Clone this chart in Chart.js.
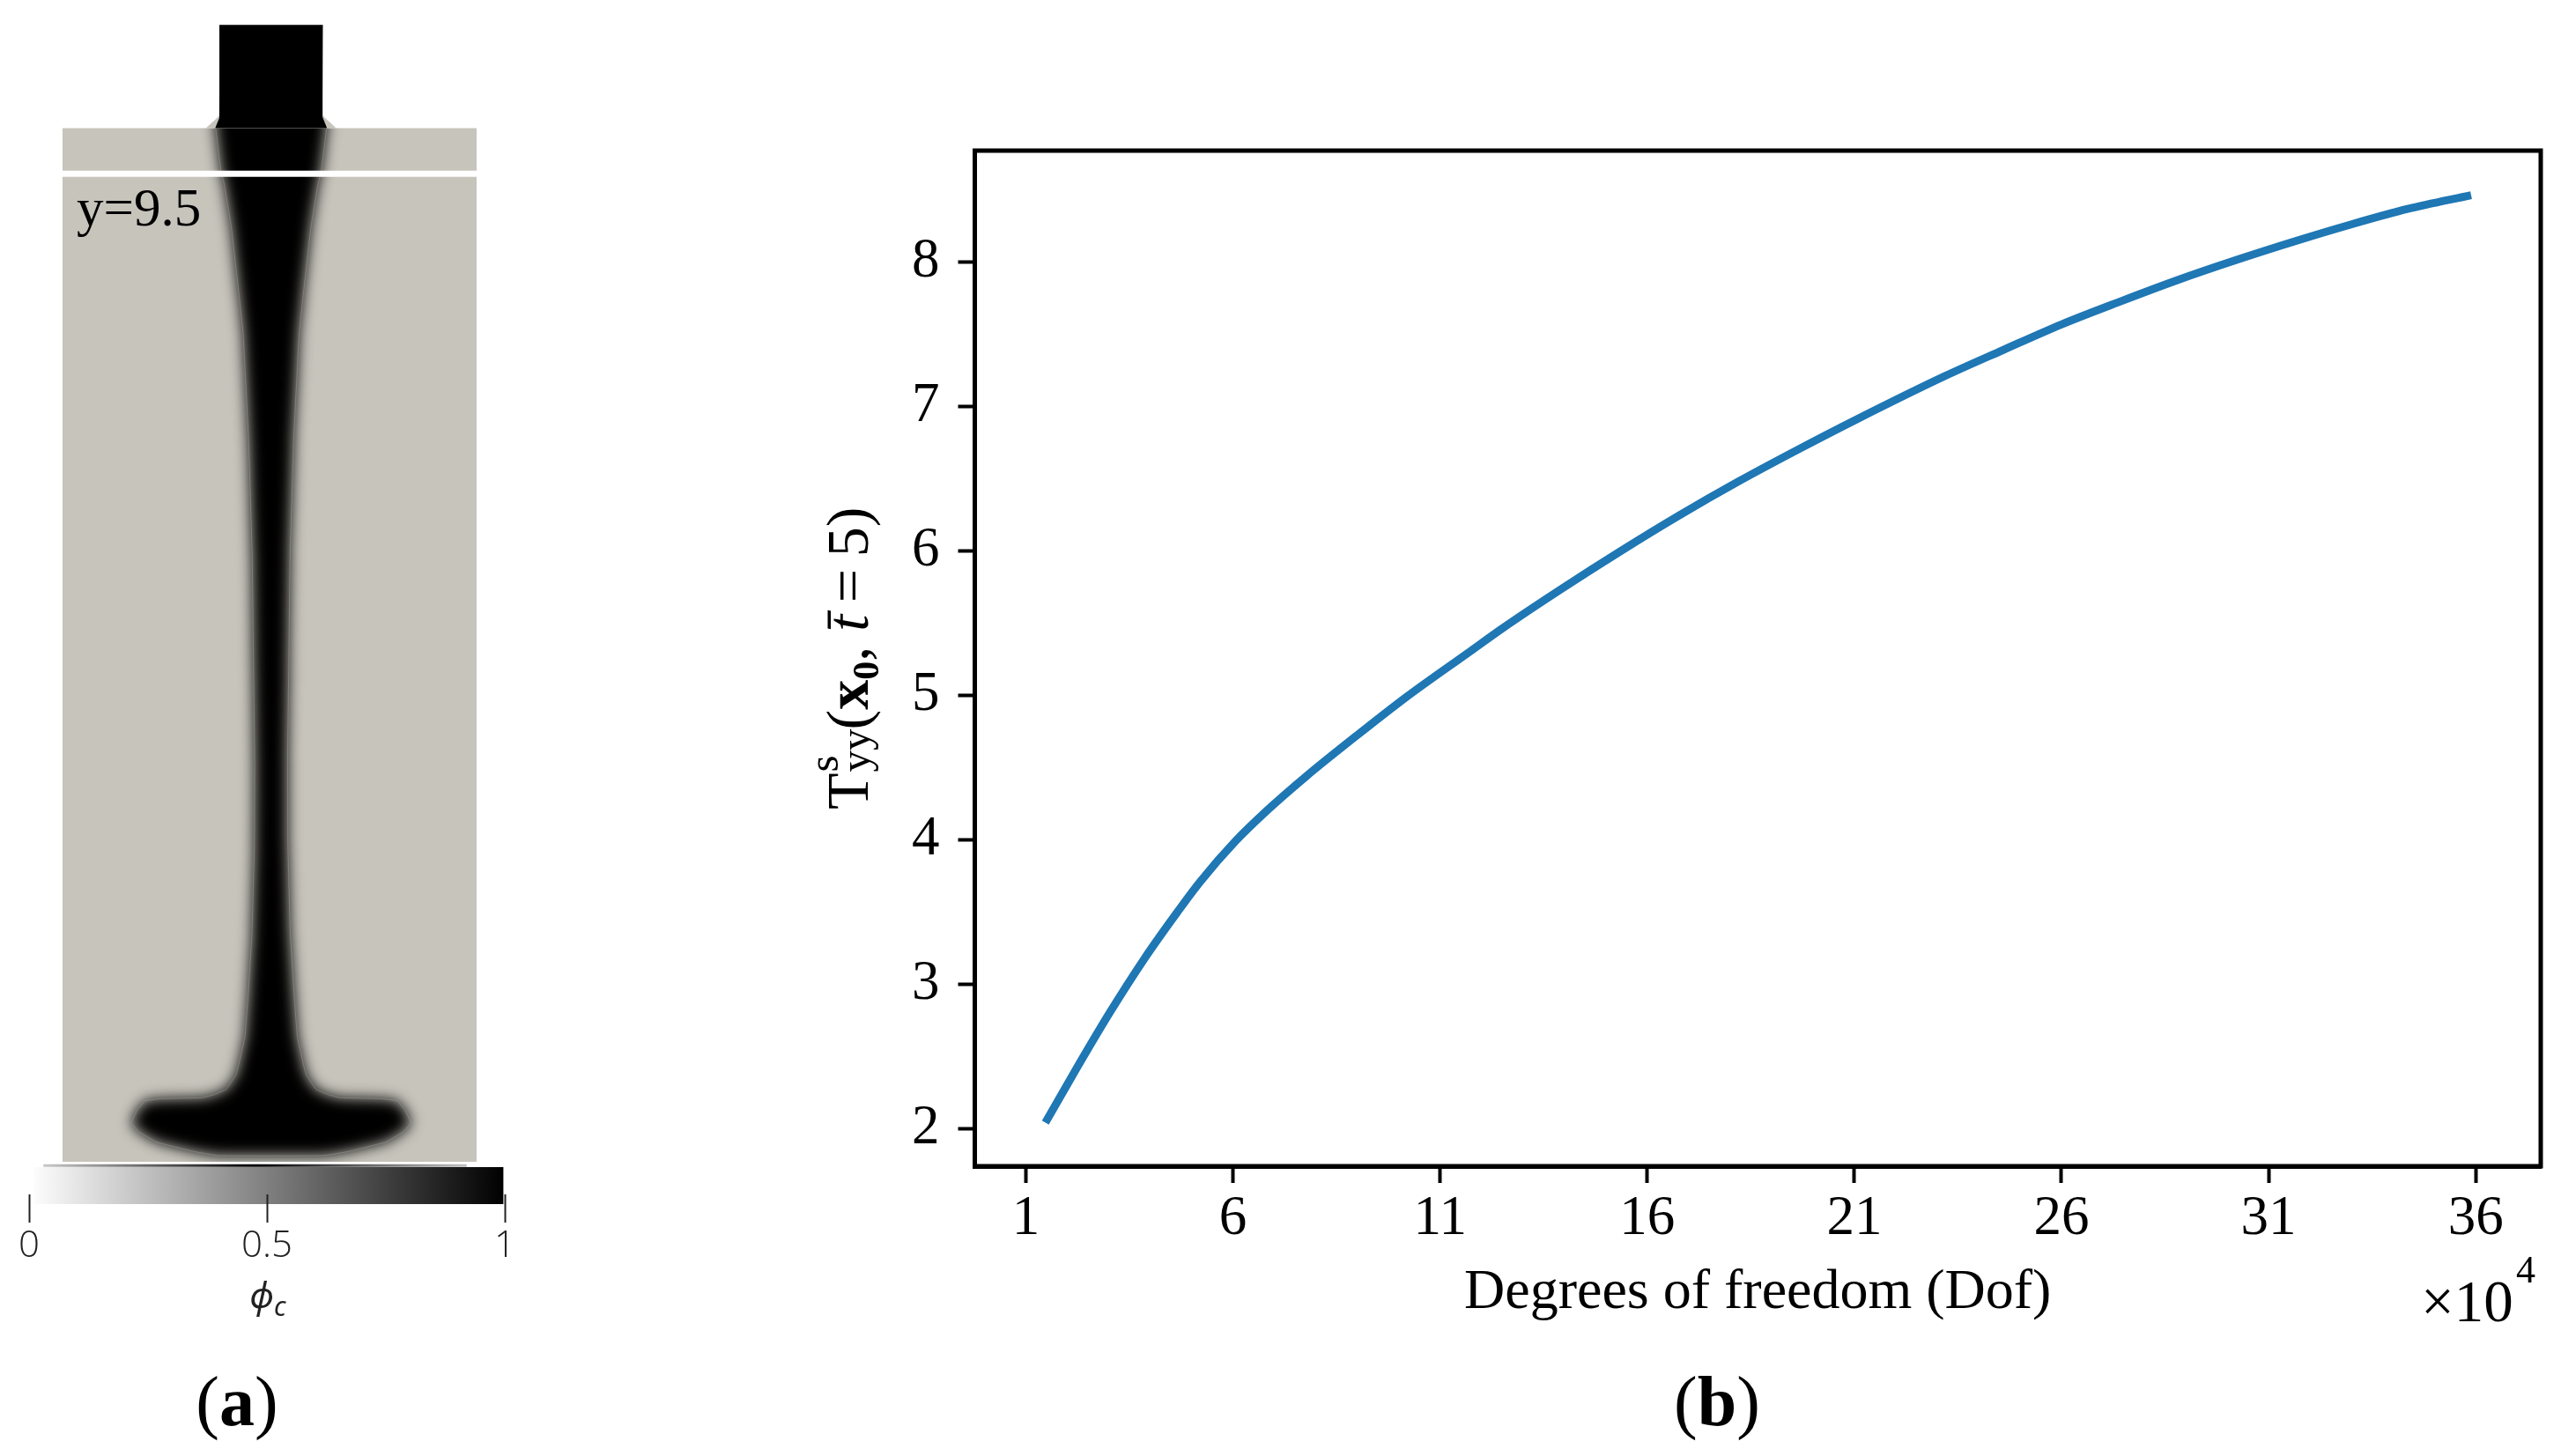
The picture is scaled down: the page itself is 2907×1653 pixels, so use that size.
<!DOCTYPE html>
<html lang="en">
<head>
<meta charset="UTF-8">
<title>Neck profile and mesh convergence</title>
<script src="https://cdn.jsdelivr.net/npm/chart.js"></script>
<style>
  html, body { margin: 0; padding: 0; background: #fff; }
  body { position: relative; width: 2907px; height: 1653px; overflow: hidden; }
  canvas { position: absolute; }
  .txt { position: absolute; font-family: "Liberation Serif", serif; color: #000; line-height: 1; white-space: nowrap; }
  .ylabel { transform-origin: 0 0; transform: rotate(-90deg); }
  .stack { display: inline-block; position: relative; width: 0.72em; height: 1em; }
  .stack span { position: absolute; left: 0.02em; font-size: 0.72em; line-height: 1; }
</style>
</head>
<body>
<canvas id="fieldChart" width="640" height="1322" style="left:0;top:0"></canvas>
<canvas id="colorbarChart" width="640" height="150" style="left:0;top:1300px"></canvas>
<canvas id="dofChart" width="2027" height="1653" style="left:880px;top:0"></canvas>

<div class="txt" style="left:87px;top:205px;font-size:61px">y=9.5</div>
<div class="txt" style="left:304px;top:1449px;font-size:41px;font-family:'Noto Sans';color:#222;transform:translateX(-50%)"><i>ϕ</i><sub style="font-size:30px;font-style:italic">c</sub></div>
<div class="txt" style="left:269px;top:1551px;font-size:80px;transform:translateX(-50%)">(<b>a</b>)</div>
<div class="txt" style="left:1949px;top:1551px;font-size:80px;transform:translateX(-50%)">(<b>b</b>)</div>
<div class="txt" style="left:2748px;top:1444px;font-size:67px">×10</div>
<div class="txt" style="left:2856px;top:1420px;font-size:44px">4</div>
<div class="txt ylabel" style="left:917px;top:919px;font-size:68px">T<span class="stack"><span style="top:-0.12em">s</span><span style="top:0.62em">yy</span></span>(<b>x</b><b style="font-size:42px;position:relative;top:12px">0</b>, <i>t̄</i>&#8201;=&#8201;5)</div>

<script>
// panel (b): value at x0 against degrees of freedom
const dofValues = [1.47, 2.13, 3.02, 3.87, 4.66, 5.21, 6.06, 6.85, 7.77, 8.98, 10.19, 11.7, 12.53, 13.94, 15.36, 16.79, 18.19, 19.62, 21.04, 23.17, 24.57, 26.0, 27.43, 28.83, 30.26, 31.68, 32.96, 34.36, 35.89];
const stressValues = [2.04, 2.37, 2.8, 3.18, 3.5, 3.71, 3.99, 4.21, 4.44, 4.72, 4.99, 5.3, 5.47, 5.74, 6.0, 6.25, 6.48, 6.7, 6.91, 7.21, 7.39, 7.57, 7.73, 7.88, 8.02, 8.15, 8.26, 8.37, 8.465];
const dofTicks = [1, 6, 11, 16, 21, 26, 31, 36];
const stressTicks = [2, 3, 4, 5, 6, 7, 8];

// panel (a): half width of the dark phase at each height
const bodyHeights = [10.14, 10.0, 9.59, 9.45, 9.03, 8.35, 8.01, 7.66, 6.98, 5.87, 4.77, 3.89, 3.06, 2.21, 1.64, 1.21, 0.93, 0.84, 0.7, 0.65, 0.62, 0.61, 0.59, 0.5, 0.375, 0.29, 0.19, 0.1, 0.06];
const bodyHalfWidths = [0.553, 0.536, 0.485, 0.451, 0.383, 0.306, 0.27, 0.252, 0.217, 0.183, 0.17, 0.159, 0.162, 0.185, 0.22, 0.253, 0.315, 0.34, 0.434, 0.553, 0.664, 1.064, 1.217, 1.294, 1.351, 1.277, 1.106, 0.749, 0.511];
const bodyCenter = 0.015;
const domainX = [-2, 2];
const domainTop = 10;
const inletHalfWidth = 0.5;
const inletTop = 11;
const sliceHeight = 9.56;
const colorbarTicks = [0, 0.5, 1];

const serif = 'Liberation Serif';
const gray = '#c7c4bc';

// outline goes down the left side and back up the right
const bodyOutline = bodyHeights.map((h, i) => ({ x: bodyCenter - bodyHalfWidths[i], y: h }))
  .concat(bodyHeights.map((h, i) => ({ x: bodyCenter + bodyHalfWidths[i], y: h })).reverse());

// grey domain first, then the blurred body clipped to it
const fieldPlugin = {
  id: 'field',
  beforeDatasetsDraw(chart) {
    const { ctx, scales: { x, y } } = chart;
    const left = x.getPixelForValue(domainX[0]);
    const width = x.getPixelForValue(domainX[1]) - left;
    const top = y.getPixelForValue(domainTop);
    const height = y.getPixelForValue(0) - top;
    ctx.fillStyle = gray;
    ctx.fillRect(left, top, width, height);
    ctx.save();
    ctx.beginPath();
    ctx.rect(left, top, width, height);
    ctx.clip();
    ctx.filter = 'blur(8px)';
  },
  afterDatasetDraw(chart, args) {
    if (chart.data.datasets[args.index].label === 'body') chart.ctx.restore();
  }
};

new Chart(document.getElementById('fieldChart'), {
  type: 'scatter',
  data: {
    datasets: [
      { label: 'slice', order: 0, showLine: true, data: [{ x: domainX[0], y: sliceHeight }, { x: domainX[1], y: sliceHeight }], borderColor: '#fff', borderWidth: 7, pointRadius: 0, borderCapStyle: 'butt', clip: 0 },
      { label: 'inlet', order: 1, showLine: true, tension: 0.01, fill: 'shape', backgroundColor: '#000', borderWidth: 0, pointRadius: 0,
        data: [{ x: bodyCenter - inletHalfWidth, y: inletTop }, { x: bodyCenter - inletHalfWidth, y: 10.1 }, { x: bodyCenter - 0.54, y: domainTop }, { x: bodyCenter + 0.54, y: domainTop }, { x: bodyCenter + inletHalfWidth, y: 10.1 }, { x: bodyCenter + inletHalfWidth, y: inletTop }] },
      { label: 'fillet', order: 2, showLine: true, tension: 0.01, fill: 'shape', backgroundColor: gray, borderWidth: 0, pointRadius: 0,
        data: [{ x: bodyCenter - 0.63, y: domainTop }, { x: bodyCenter - inletHalfWidth, y: 10.12 }, { x: bodyCenter + inletHalfWidth, y: 10.12 }, { x: bodyCenter + 0.63, y: domainTop }] },
      { label: 'contour', order: 3, showLine: true, tension: 0.05, data: bodyOutline.slice(1, -1), borderColor: 'rgba(165,163,155,0.45)', borderWidth: 1, pointRadius: 0 },
      { label: 'body', order: 4, showLine: true, tension: 0.05, fill: 'shape', backgroundColor: '#000', borderWidth: 0, pointRadius: 0, data: bodyOutline }
    ]
  },
  options: {
    responsive: false,
    animation: false,
    devicePixelRatio: 1,
    layout: { padding: { left: 71, right: 99, top: 27, bottom: 3 } },
    plugins: { legend: { display: false }, tooltip: { enabled: false } },
    scales: {
      x: { display: false, min: domainX[0], max: domainX[1] },
      y: { display: false, min: 0, max: 11.01 }
    }
  },
  plugins: [fieldPlugin]
});

// colour bar
function barGradient(chart) {
  if (!chart.chartArea) return '#808080';
  const g = chart.ctx.createLinearGradient(chart.scales.x.getPixelForValue(0), 0, chart.scales.x.getPixelForValue(1), 0);
  g.addColorStop(0, '#ffffff');
  g.addColorStop(1, '#000000');
  return g;
}
function sliverGradient(chart) {
  if (!chart.chartArea) return '#808080';
  const g = chart.ctx.createLinearGradient(chart.scales.x.getPixelForValue(0.03), 0, chart.scales.x.getPixelForValue(0.92), 0);
  g.addColorStop(0, '#c8c8c8');
  g.addColorStop(0.5, '#000000');
  g.addColorStop(1, '#c0c0c0');
  return g;
}
new Chart(document.getElementById('colorbarChart'), {
  type: 'scatter',
  data: {
    datasets: [
      { showLine: true, data: [{ x: 0.01, y: 0.32 }, { x: 0.997, y: 0.32 }], borderColor: ctx => barGradient(ctx.chart), borderWidth: 42, borderCapStyle: 'butt', pointRadius: 0, clip: false },
      { showLine: true, data: [{ x: 0.03, y: 1.06 }, { x: 0.92, y: 1.06 }], borderColor: ctx => sliverGradient(ctx.chart), borderWidth: 3, borderCapStyle: 'butt', pointRadius: 0, clip: false }
    ]
  },
  options: {
    responsive: false,
    animation: false,
    devicePixelRatio: 1,
    layout: { padding: { left: 33, right: 67, top: 25, bottom: 0 } },
    plugins: { legend: { display: false }, tooltip: { enabled: false } },
    scales: {
      x: {
        min: 0,
        max: 1,
        afterBuildTicks: axis => { axis.ticks = colorbarTicks.map(v => ({ value: v })); },
        afterFit: scale => { scale.height = 94; },
        grid: { drawOnChartArea: false, tickLength: 32, tickWidth: 2, tickColor: '#222', z: 1 },
        border: { display: false },
        ticks: { autoSkip: false, maxRotation: 0, padding: 2, color: '#222', font: { family: 'Open Sans', size: 42, weight: 300 }, callback: v => String(v) }
      },
      y: { display: false, min: 0, max: 1 }
    }
  }
});

// frame on the top and right, the scales draw the other two sides
const framePlugin = {
  id: 'frame',
  afterDraw(chart) {
    const { ctx, chartArea: a } = chart;
    ctx.save();
    ctx.strokeStyle = '#000';
    ctx.lineWidth = 5;
    ctx.strokeRect(a.left, a.top, a.right - a.left, a.bottom - a.top);
    ctx.restore();
  }
};

new Chart(document.getElementById('dofChart'), {
  type: 'line',
  data: {
    datasets: [{
      data: dofValues.map((x, i) => ({ x: x, y: stressValues[i] })),
      borderColor: '#1f77b4',
      borderWidth: 9,
      borderCapStyle: 'butt',
      pointRadius: 0,
      cubicInterpolationMode: 'monotone'
    }]
  },
  options: {
    responsive: false,
    animation: false,
    devicePixelRatio: 1,
    layout: { padding: { left: 0, right: 23, top: 171, bottom: 0 } },
    plugins: { legend: { display: false }, tooltip: { enabled: false } },
    scales: {
      x: {
        type: 'linear',
        min: -0.234,
        max: 37.57,
        afterBuildTicks: axis => { axis.ticks = dofTicks.map(v => ({ value: v })); },
        afterFit: scale => { scale.height = 329; },
        grid: { drawOnChartArea: false, tickLength: 19, tickWidth: 4, tickColor: '#000' },
        border: { display: true, width: 5, color: '#000' },
        ticks: { autoSkip: false, maxRotation: 0, padding: 4, color: '#000', font: { family: serif, size: 63 }, callback: v => String(v) },
        title: { display: true, text: 'Degrees of freedom (Dof)', color: '#000', font: { family: serif, size: 64 }, padding: { top: 0, bottom: 146 } }
      },
      y: {
        min: 1.738,
        max: 8.774,
        afterBuildTicks: axis => { axis.ticks = stressTicks.map(v => ({ value: v })); },
        afterFit: scale => { scale.width = 226.5; },
        grid: { drawOnChartArea: false, tickLength: 19, tickWidth: 4, tickColor: '#000' },
        border: { display: true, width: 5, color: '#000' },
        ticks: { autoSkip: false, padding: 21, color: '#000', font: { family: serif, size: 63 }, callback: v => String(v) }
      }
    }
  },
  plugins: [framePlugin]
});
</script>
</body>
</html>
